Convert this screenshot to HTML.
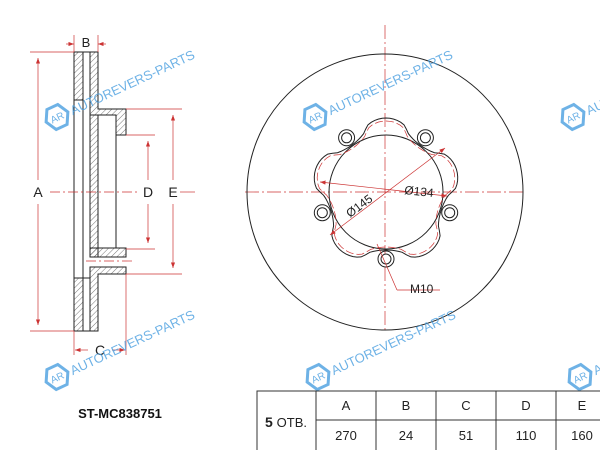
<!DOCTYPE html>
<html><head><meta charset="utf-8"><style>
html,body{margin:0;padding:0;background:#fff;}
svg{display:block;font-family:"Liberation Sans",sans-serif;}
</style></head><body>
<svg id="s" width="600" height="450" viewBox="0 0 600 450" xmlns="http://www.w3.org/2000/svg">
<defs>
<pattern id="h" width="4" height="4" patternUnits="userSpaceOnUse" patternTransform="rotate(45)">
<line x1="0" y1="0" x2="0" y2="4" stroke="#555" stroke-width="0.8"/></pattern>
<marker id="ar" markerWidth="8" markerHeight="6" refX="8" refY="3" orient="auto-start-reverse"><path d="M0,0 L8,3 L0,6 z" fill="#c33"/></marker>
</defs>
<!-- side view -->
<g stroke="#222" stroke-width="1" fill="none">
<rect x="74" y="52" width="9" height="48" fill="url(#h)"/>
<rect x="74" y="278" width="9" height="53" fill="url(#h)"/>
<line x1="74" y1="100" x2="74" y2="278"/><line x1="83" y1="100" x2="83" y2="278"/>
<path d="M90,52 L98,52 L98,109 L126,109 L126,135 L116,135 L116,115 L90,115 Z" fill="url(#h)"/>
<rect x="90" y="115" width="8" height="142" fill="url(#h)"/>
<line x1="116" y1="135" x2="116" y2="248"/>
<rect x="90" y="248" width="36" height="9" fill="url(#h)"/>
<path d="M90,267 L126,267 L126,274 L98,274 L98,331 L90,331 Z" fill="url(#h)"/>
<line x1="83" y1="331" x2="90" y2="331"/><line x1="83" y1="52" x2="90" y2="52"/>
<line x1="83" y1="278" x2="90" y2="278"/>
</g>
<g stroke="#c33" stroke-width="0.7" fill="none">
<line x1="30" y1="52" x2="74" y2="52"/><line x1="30" y1="331" x2="74" y2="331"/>
<line x1="38" y1="58" x2="38" y2="180" marker-start="url(#ar)"/><line x1="38" y1="204" x2="38" y2="325" marker-end="url(#ar)"/>
<line x1="74" y1="35" x2="74" y2="52"/><line x1="98" y1="35" x2="98" y2="52"/>
<line x1="66" y1="44" x2="74" y2="44" marker-end="url(#ar)"/><line x1="106" y1="44" x2="98" y2="44" marker-end="url(#ar)"/>
<line x1="74" y1="331" x2="74" y2="355"/><line x1="126" y1="274" x2="126" y2="355"/>
<line x1="88" y1="350" x2="75" y2="350" marker-end="url(#ar)"/><line x1="112" y1="350" x2="125" y2="350" marker-end="url(#ar)"/>
<line x1="126" y1="135" x2="155" y2="135"/><line x1="126" y1="249" x2="155" y2="249"/>
<line x1="126" y1="109" x2="182" y2="109"/><line x1="126" y1="274" x2="182" y2="274"/>
<line x1="148" y1="141" x2="148" y2="180" marker-start="url(#ar)"/><line x1="148" y1="204" x2="148" y2="243" marker-end="url(#ar)"/>
<line x1="173" y1="115" x2="173" y2="180" marker-start="url(#ar)"/><line x1="173" y1="204" x2="173" y2="268" marker-end="url(#ar)"/>
<line x1="50" y1="192" x2="140" y2="192" stroke-dasharray="10,3,2,3"/>
<line x1="180" y1="192" x2="195" y2="192"/>
<line x1="86" y1="261" x2="132" y2="261" stroke-dasharray="10,3,2,3"/>
</g>
<g font-size="14" fill="#222" text-anchor="middle">
<text x="38" y="197">A</text><text x="148" y="197">D</text><text x="173" y="197">E</text>
<text x="86" y="47" font-size="13">B</text><text x="100" y="355">C</text>
</g>
<!-- front view -->
<g stroke="#c33" stroke-width="0.7" fill="none" stroke-dasharray="14,3,2,3">
<line x1="385" y1="25" x2="385" y2="330"/><line x1="245" y1="192" x2="525" y2="192"/>
</g>
<circle cx="385" cy="192" r="138" fill="none" stroke="#222" stroke-width="1"/>
<circle cx="386" cy="192" r="57" fill="none" stroke="#222" stroke-width="1"/>
<path id="sc" fill="none" stroke="#222" stroke-width="1"/>
<path id="scd" fill="none" stroke="#c33" stroke-width="0.7" stroke-dasharray="8,3"/>
<g id="holes" fill="#fff" stroke="#222" stroke-width="1"></g>
<g stroke="#c33" stroke-width="0.7" fill="none">
<line x1="320" y1="182" x2="447" y2="196" marker-start="url(#ar)" marker-end="url(#ar)"/>
<line x1="330" y1="235" x2="445" y2="148" marker-start="url(#ar)" marker-end="url(#ar)"/>
<line x1="377" y1="244" x2="397" y2="290"/><line x1="397" y1="290" x2="440" y2="290"/>
</g>
<g font-size="12" fill="#222">
<text x="404" y="194" transform="rotate(6 404 194)">Ø134</text>
<text x="350" y="218" transform="rotate(-37 350 218)">Ø145</text>
<text x="410" y="293">M10</text>
</g>
<!-- watermarks -->
<g id="wm" fill="#4a9fe0" font-size="13"></g>
<text x="120" y="418" font-size="13" font-weight="bold" text-anchor="middle" fill="#111">ST-MC838751</text>
<!-- table -->
<g stroke="#333" stroke-width="1" fill="none">
<path d="M257,450 L257,391 L600,391 M316,391 L316,450 M376,391 L376,450 M436,391 L436,450 M496,391 L496,450 M556,391 L556,450 M316,420 L600,420"/>
</g>
<g font-size="13" fill="#222" text-anchor="middle">
<text x="346" y="410">A</text><text x="406" y="410">B</text><text x="466" y="410">C</text><text x="526" y="410">D</text><text x="582" y="410">E</text>
<text x="346" y="440">270</text><text x="406" y="440">24</text><text x="466" y="440">51</text><text x="526" y="440">110</text><text x="582" y="440">160</text>
<text x="286" y="427" font-size="14" font-weight="bold">5 <tspan font-weight="normal" font-size="13">ОТВ.</tspan></text>
</g>
</svg>
<script>
(function(){
var cx=386,cy=192,d="",dd="";
for(var i=0;i<=360;i+=3){var t=i*Math.PI/180;var c=Math.cos(5*(t-Math.PI/2));var r=66-8*Math.sign(c)*Math.pow(Math.abs(c),0.6);
var x=cx+r*Math.cos(t),y=cy+r*Math.sin(t);d+=(i?"L":"M")+x.toFixed(1)+","+y.toFixed(1);
var r2=r-3;dd+=(i?"L":"M")+(cx+r2*Math.cos(t)).toFixed(1)+","+(cy+r2*Math.sin(t)).toFixed(1);}
document.getElementById("sc").setAttribute("d",d+"Z");
document.getElementById("scd").setAttribute("d",dd+"Z");
var h="";for(var k=0;k<5;k++){var t=Math.PI/2+k*2*Math.PI/5;var x=cx+67*Math.cos(t),y=cy+67*Math.sin(t);
h+='<circle cx="'+x.toFixed(1)+'" cy="'+y.toFixed(1)+'" r="8" fill="none"/><circle cx="'+x.toFixed(1)+'" cy="'+y.toFixed(1)+'" r="5"/>';}
document.getElementById("holes").innerHTML=h;
var p=[[57,117],[315,117],[573,117],[57,377],[318,377],[580,377]];var w="";
p.forEach(function(q){w+='<g transform="translate('+q[0]+','+q[1]+') rotate(-25)" opacity="0.8"><polygon points="-12,0 -6,-11 6,-11 12,0 6,11 -6,11" fill="none" stroke="#4a9fe0" stroke-width="3"/><text x="-7" y="4" font-size="10">AR</text><text x="15" y="5">AUTOREVERS-PARTS</text></g>';});
document.getElementById("wm").innerHTML=w;
})();
</script>
</body></html>
